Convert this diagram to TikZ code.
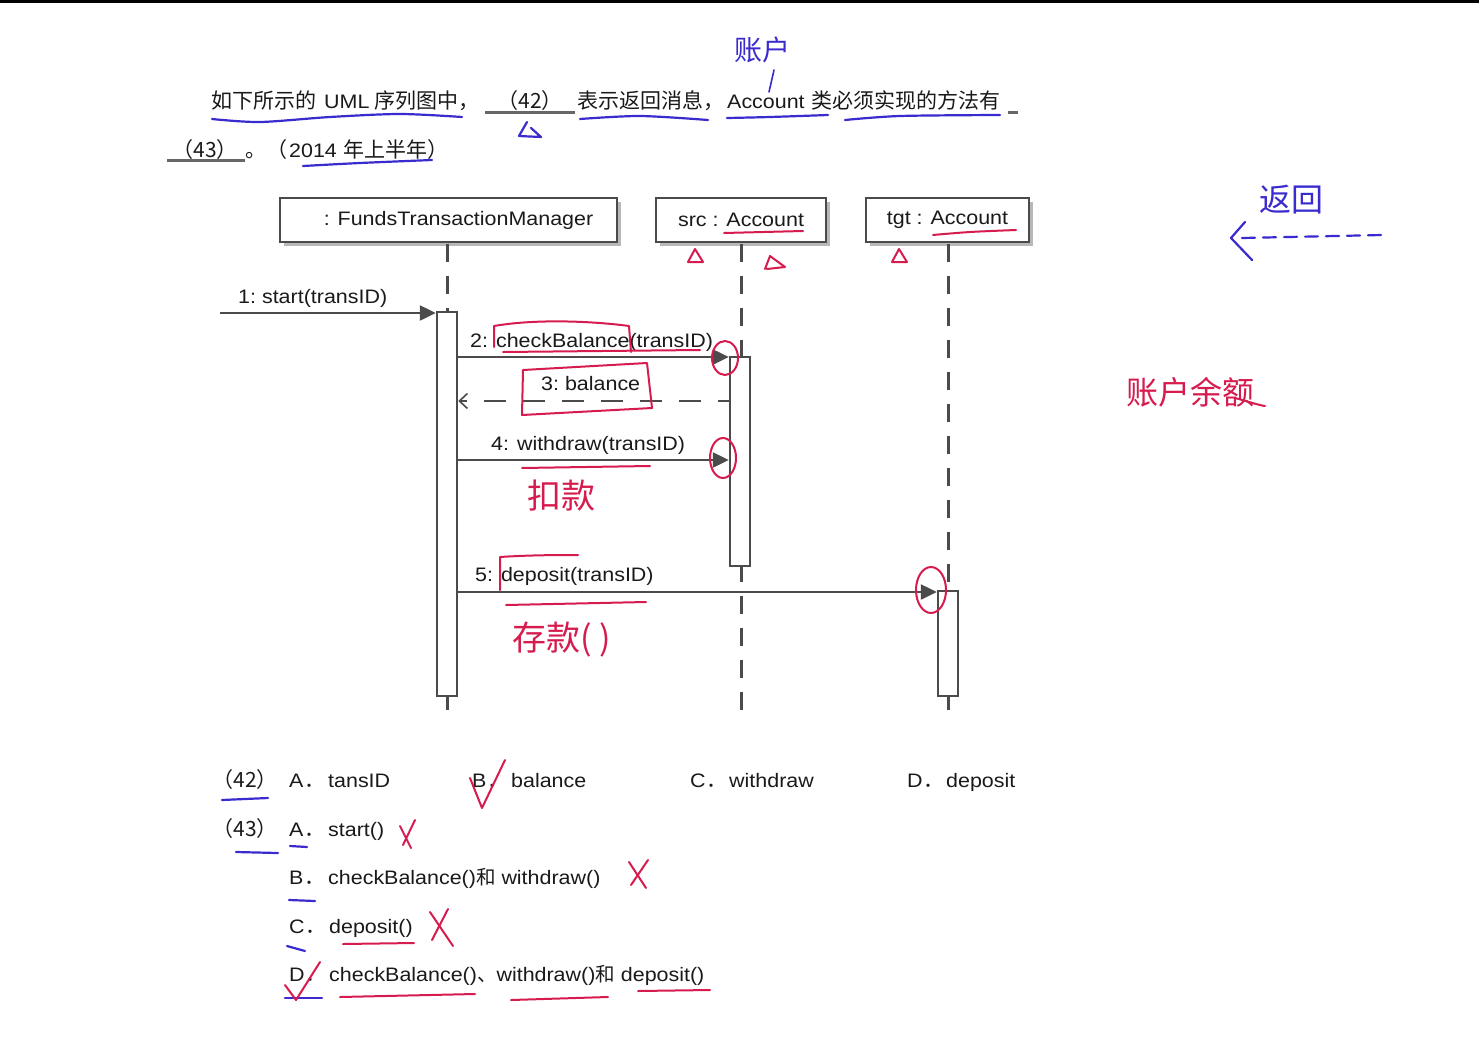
\documentclass[tikz,border=0pt]{standalone}
\usepackage{fontspec}
\setmainfont[FakeStretch=1.1]{Liberation Sans}
\newfontfamily\cjk{Noto Sans CJK SC}
\usetikzlibrary{arrows.meta,shadows}
\definecolor{ink}{HTML}{1A1A1A}
\definecolor{ln}{HTML}{4B4B4B}
\definecolor{bluepen}{HTML}{3A2BCF}
\definecolor{redpen}{HTML}{D61C4E}
\definecolor{ulgray}{HTML}{666666}
\begin{document}
\begin{tikzpicture}[x=1pt,y=-1pt,
  lat/.style={anchor=base west, inner sep=0pt, text=ink, font=\fontsize{19.5}{23}\selectfont},
  cjkt/.style={anchor=base west, inner sep=0pt, text=ink, font=\cjk\fontsize{21}{24}\selectfont},
  obj/.style={draw=ln, line width=2.5pt, fill=white, minimum height=44pt, inner sep=0pt,
    text=ink, font=\fontsize{19.5}{23}\selectfont,
    drop shadow={shadow xshift=4pt, shadow yshift=-4pt, fill=black!28, opacity=1}},
  act/.style={draw=ln, line width=2.5pt, fill=white, minimum width=20pt, inner sep=0pt},
  life/.style={draw=ln, line width=3pt, dash pattern=on 18pt off 14pt},
  msg/.style={draw=ln, line width=2.5pt, -{Triangle[length=16pt,width=15pt]}},
  ret/.style={draw=ln, line width=2pt, dash pattern=on 22pt off 17pt, dash phase=11pt,
    -{Straight Barb[length=8pt,width=15pt,line width=1.6pt]}},
  ulg/.style={draw=ulgray, line width=3pt},
  bpen/.style={draw=bluepen, line width=2.2pt, line cap=round, line join=round},
  rpen/.style={draw=redpen, line width=2pt, line cap=round, line join=round},
  bhand/.style={text=bluepen, inner sep=0pt, font=\cjk\fontsize{32}{34}\selectfont},
  rhand/.style={text=redpen, inner sep=0pt, font=\cjk\fontsize{34}{36}\selectfont}
]
\useasboundingbox (0,0) rectangle (1479,1052);
\fill[white] (0,0) rectangle (1479,1052);
\fill[black] (0,0) rectangle (1479,3);

% ---------------- question text ----------------
\node[cjkt] (q1) at (211,108) {如下所示的};
\node[lat]  (q2) at (324,108) {UML};
\node[cjkt] (q3) at (374,108) {序列图中，};
\draw[ulg] (485,112) -- (575,112);
\node[cjkt,anchor=base] (q4) at (530,108) {（42）};
\node[cjkt] (q5) at (577,108) {表示返回消息，};
\node[lat]  (q6) at (727,108) {Account};
\node[cjkt] (q7) at (811,108) {类必须实现的方法有};
\draw[ulg] (1008,112) -- (1018,112);

\draw[ulg] (167,160) -- (245,160);
\node[cjkt,anchor=base] (r1) at (205,157) {（43）};
\node[cjkt] (r2) at (245,157) {。};
\node[cjkt] (r3) at (266,157) {（};
\node[lat]  (r4) at (289,157) {2014};
\node[cjkt] (r5) at (343,157) {年上半年）};

% ---------------- sequence diagram ----------------
\node[obj, minimum width=337pt] (ftm) at (448.5,220) {\hspace*{20pt}: FundsTransactionManager};
\node[obj, minimum width=170pt] (src) at (741,220) {src : Account};
\node[obj, minimum width=163pt] (tgt) at (947.5,220) {tgt : Account};

\coordinate (L1t) at (447,244); \coordinate (L1b) at (447,722);
\coordinate (L2t) at (741,244); \coordinate (L2b) at (741,722);
\coordinate (L3t) at (948,244); \coordinate (L3b) at (948,722);
\draw[life] (L1t) -- (L1b);
\draw[life] (L2t) -- (L2b);
\draw[life] (L3t) -- (L3b);

\node[act, minimum height=384pt] (a1) at (447,504) {};
\node[act, minimum height=209pt] (a2) at (740,461.5) {};
\node[act, minimum height=105pt] (a3) at (948,643.5) {};

\coordinate (y1) at (0,313);
\coordinate (y2) at (0,357);
\coordinate (y3) at (0,401);
\coordinate (y4) at (0,460);
\coordinate (y5) at (0,592);
\coordinate (m1s) at (220,313);

\draw[msg] (m1s) -- (a1.west |- y1);
\draw[msg] (a1.east |- y2) -- (a2.west |- y2);
\draw[ret] (a2.west |- y3) -- (a1.east |- y3);
\draw[msg] (a1.east |- y4) -- (a2.west |- y4);
\draw[msg] (a1.east |- y5) -- (a3.west |- y5);

\node[lat] (l1) at (238,303) {1:\ start(transID)};
\node[lat] (l2) at (470,347) {2: checkBalance(transID)};
\node[lat] (l3) at (541,390) {3:\ balance};
\node[lat] (l4) at (491,450) {4: withdraw(transID)};
\node[lat] (l5) at (475,581) {5: deposit(transID)};

% ---------------- options ----------------
\node[cjkt,anchor=base] (o42) at (245,787) {（42）};
\node[lat]  (o42a)  at (289,787) {A};
\node[cjkt] (o42ad) at (304,787) {．};
\node[lat]  (o42at) at (328,787) {tansID};
\node[lat]  (o42b)  at (472,787) {B};
\node[cjkt] (o42bd) at (487,787) {．};
\node[lat]  (o42bt) at (511,787) {balance};
\node[lat]  (o42c)  at (690,787) {C};
\node[cjkt] (o42cd) at (706,787) {．};
\node[lat]  (o42ct) at (729,787) {withdraw};
\node[lat]  (o42d)  at (907,787) {D};
\node[cjkt] (o42dd) at (923,787) {．};
\node[lat]  (o42dt) at (946,787) {deposit};

\node[cjkt,anchor=base] (o43) at (245,836) {（43）};
\node[lat]  (o43a)  at (289,836) {A};
\node[cjkt] (o43ad) at (304,836) {．};
\node[lat]  (o43at) at (328,836) {start()};
\node[lat]  (o43b)  at (289,884) {B};
\node[cjkt] (o43bd) at (304,884) {．};
\node[lat]  (o43bt) at (328,884) {checkBalance(){\cjk 和} withdraw()};
\node[lat]  (o43c)  at (289,933) {C};
\node[cjkt] (o43cd) at (305,933) {．};
\node[lat]  (o43ct) at (329,933) {deposit()};
\node[lat]  (o43d)  at (289,981) {D};
\node[cjkt] (o43dd) at (305,981) {．};
\node[lat]  (o43dt) at (329,981) {checkBalance(){\cjk 、}withdraw(){\cjk 和} deposit()};

% ---------------- blue pen annotations ----------------
\draw[bpen] plot[smooth] coordinates {(212,119) (260,122) (330,117) (400,114) (462,117)};
\draw[bpen] plot[smooth] coordinates {(580,119) (640,116) (708,120)};
\draw[bpen] plot[smooth] coordinates {(727,118) (770,117) (828,115)};
\draw[bpen] plot[smooth] coordinates {(845,120) (900,116) (1000,115)};
\draw[bpen] plot[smooth] coordinates {(303,166) (360,163) (432,160)};
\draw[bpen] (527,122) -- (519,136) -- (541,137) -- (531,128);
\node[bhand, font=\cjk\fontsize{28}{30}\selectfont] (hz1) at (762,50) {账户};
\draw[bpen, line width=1.6pt] (774,70) -- (769,92);
\node[bhand] (hz2) at (1291,200) {返回};
\draw[bpen] (1245,222) -- (1231,238) -- (1252,260);
\draw[bpen, dash pattern=on 13pt off 8pt] (1242,238) -- (1382,235);
\draw[bpen] (222,800) -- (268,798);
\draw[bpen] (236,852) -- (278,853);
\draw[bpen] (290,846) -- (307,847);
\draw[bpen] (289,900) -- (315,901);
\draw[bpen] (287,946) -- (305,951);
\draw[bpen] (285,998) -- (322,998);

% ---------------- red pen annotations ----------------
\draw[rpen] (724,233) -- (803,231);
\draw[rpen] plot[smooth] coordinates {(933,235) (970,232) (1016,230)};
\draw[rpen] (688,262) -- (695,249) -- (703,262) -- cycle;
\draw[rpen] (765,269) -- (770,256) -- (785,267) -- (767,269);
\draw[rpen] (892,262) -- (899,249) -- (907,262) -- cycle;
\draw[rpen] (494,347) -- (494,326) .. controls (540,318) and (600,322) .. (629,326) -- (631,352);
\draw[rpen] (503,352) -- (700,350);
\draw[rpen] (523,370) -- (647,363) -- (652,408) -- (522,415) -- cycle;
\draw[rpen] (725,358) ellipse [x radius=13, y radius=17];
\draw[rpen] (723,458) ellipse [x radius=13, y radius=20];
\draw[rpen] (931,590) ellipse [x radius=15, y radius=23];
\draw[rpen] (522,468) -- (650,466);
\node[rhand] (hz3) at (561,496) {扣款};
\draw[rpen] (500,590) -- (500,557) .. controls (530,555) and (560,555) .. (578,555);
\draw[rpen] (506,605) -- (646,602);
\node[rhand] (hz4) at (562,640) {存款( )};
\node[rhand, font=\cjk\fontsize{32}{34}\selectfont] (hz5) at (1190,392) {账户余额};
\draw[rpen] (1235,398) .. controls (1250,402) and (1258,405) .. (1265,406);
\draw[rpen] (470,778) -- (482,808) -- (505,760);
\draw[rpen] (400,826) -- (411,848);
\draw[rpen] (415,820) -- (403,845);
\draw[rpen] (629,862) -- (646,888);
\draw[rpen] (648,860) -- (631,885);
\draw[rpen] (430,912) -- (453,946);
\draw[rpen] (448,909) -- (432,940);
\draw[rpen] (285,985) -- (296,1000) -- (320,962);
\draw[rpen] (343,944) -- (414,943);
\draw[rpen] (340,997) -- (475,994);
\draw[rpen] (511,1000) -- (608,997);
\draw[rpen] (638,991) -- (710,990);
\end{tikzpicture}
\end{document}
